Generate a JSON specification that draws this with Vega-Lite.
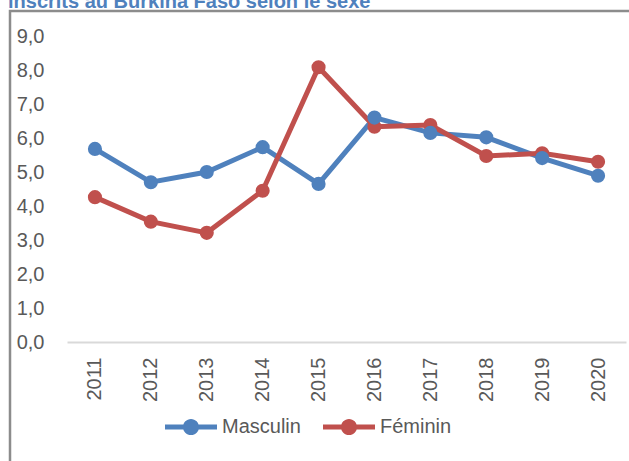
{
  "$schema": "https://vega.github.io/schema/vega-lite/v6.json",
  "autosize": {"type": "none"},
  "padding": {"left": 10, "top": 11, "right": 0, "bottom": 0},
  "width": 622,
  "height": 455,
  "config": {"view": {"stroke": "#8C8C8C", "strokeWidth": 2.5}, "font": "Liberation Sans"},
  "title": {"text": "inscrits au Burkina Faso selon le sexe", "anchor": "start", "frame": "group", "baseline": "alphabetic", "offset": 0, "dy": 17, "dx": -2, "fontSize": 20, "fontWeight": "bold", "color": "#4F81BD", "font": "Liberation Sans"},
  "data": {"values": [
    {"year": "2011", "sexe": "Masculin", "v": 5.68},
    {"year": "2012", "sexe": "Masculin", "v": 4.70},
    {"year": "2013", "sexe": "Masculin", "v": 5.00},
    {"year": "2014", "sexe": "Masculin", "v": 5.73},
    {"year": "2015", "sexe": "Masculin", "v": 4.65},
    {"year": "2016", "sexe": "Masculin", "v": 6.60},
    {"year": "2017", "sexe": "Masculin", "v": 6.15},
    {"year": "2018", "sexe": "Masculin", "v": 6.02},
    {"year": "2019", "sexe": "Masculin", "v": 5.41},
    {"year": "2020", "sexe": "Masculin", "v": 4.89},
    {"year": "2011", "sexe": "Féminin", "v": 4.26},
    {"year": "2012", "sexe": "Féminin", "v": 3.54},
    {"year": "2013", "sexe": "Féminin", "v": 3.21},
    {"year": "2014", "sexe": "Féminin", "v": 4.45},
    {"year": "2015", "sexe": "Féminin", "v": 8.08},
    {"year": "2016", "sexe": "Féminin", "v": 6.33},
    {"year": "2017", "sexe": "Féminin", "v": 6.38},
    {"year": "2018", "sexe": "Féminin", "v": 5.47},
    {"year": "2019", "sexe": "Féminin", "v": 5.55},
    {"year": "2020", "sexe": "Féminin", "v": 5.30}
  ]},
  "mark": {"type": "line", "strokeWidth": 5, "point": {"filled": true, "size": 200, "opacity": 1}},
  "encoding": {
    "x": {
      "field": "year", "type": "nominal",
      "scale": {"range": [57, 616]},
      "axis": {"title": null, "labelAngle": -90, "orient": "bottom", "offset": -124, "domainColor": "#D9D9D9", "domainWidth": 2, "ticks": false, "labelPadding": 15, "labelFontSize": 20, "labelColor": "#595959", "labelFont": "Liberation Sans"}
    },
    "y": {
      "field": "v", "type": "quantitative",
      "scale": {"domain": [0, 9], "range": [331, 25], "nice": false, "zero": true},
      "axis": {"title": null, "offset": -57, "domain": false, "ticks": false, "grid": false, "labelPadding": 23, "values": [0, 1, 2, 3, 4, 5, 6, 7, 8, 9], "labelExpr": "replace(format(datum.value, '.1f'), '.', ',')", "labelFontSize": 20, "labelColor": "#595959", "labelFont": "Liberation Sans"}
    },
    "color": {
      "field": "sexe", "type": "nominal",
      "scale": {"domain": ["Masculin", "Féminin"], "range": ["#4F81BD", "#C0504D"]},
      "legend": {
        "title": null, "orient": "none", "legendX": 155, "legendY": 390, "direction": "horizontal",
        "symbolType": "M-1,-0.1L1,-0.1L1,0.1L-1,0.1ZM0.31,0A0.31,0.31,0,1,1,-0.31,0A0.31,0.31,0,1,1,0.31,0Z",
        "symbolSize": 2704, "symbolStrokeWidth": 0, "labelFontSize": 20, "labelColor": "#595959", "labelFont": "Liberation Sans",
        "columnPadding": 22, "labelOffset": 5, "padding": 0,
        "encode": {"symbols": {"update": {"fill": {"scale": "color", "field": "value"}, "fillOpacity": {"value": 1}, "strokeWidth": {"value": 0}}}}
      }
    },
    "order": {"field": "sexe"}
  }
}
